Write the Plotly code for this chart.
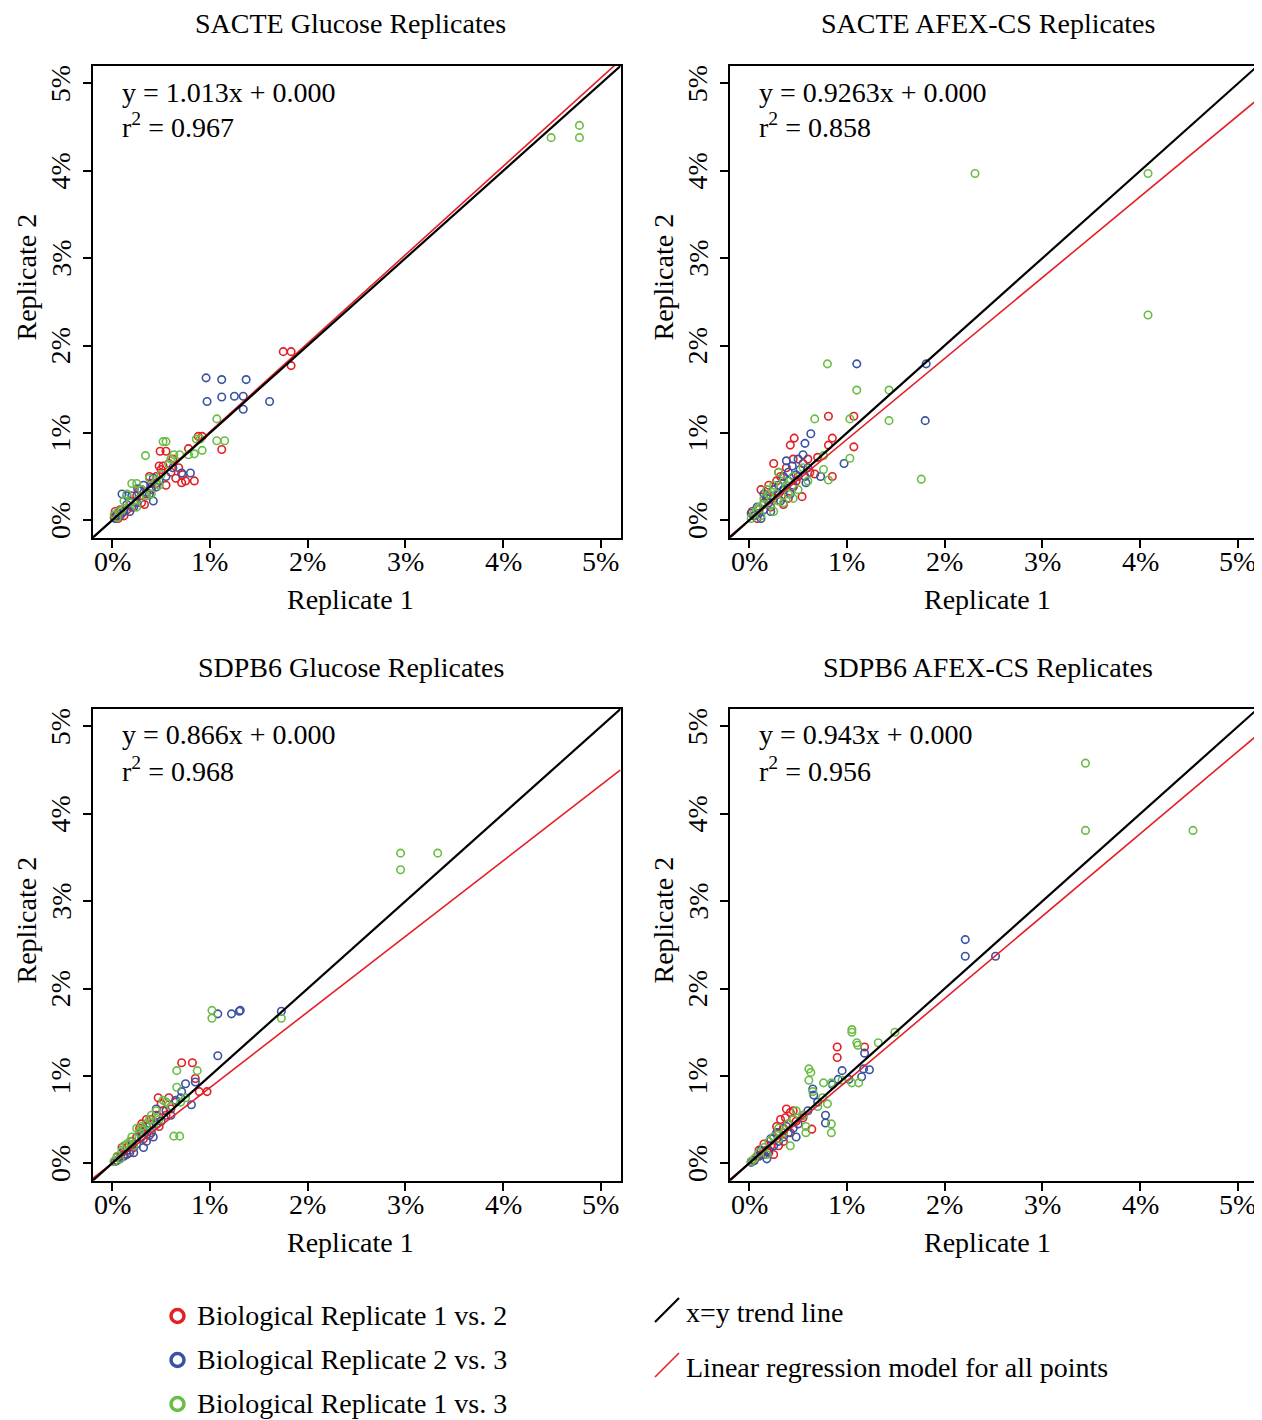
import plotly.graph_objects as go

# ---------------- data (percent) ----------------
panel_titles = ["SACTE Glucose Replicates", "SACTE AFEX-CS Replicates",
                "SDPB6 Glucose Replicates", "SDPB6 AFEX-CS Replicates"]
slopes = [1.013, 0.9263, 0.866, 0.943]
slope_labels = ["1.013", "0.9263", "0.866", "0.943"]
r2_labels = ["0.967", "0.858", "0.968", "0.956"]
tick_vals = [0, 1, 2, 3, 4, 5]
tick_text = ["0%", "1%", "2%", "3%", "4%", "5%"]
series_names = ["Biological Replicate 1 vs. 2", "Biological Replicate 2 vs. 3",
                "Biological Replicate 1 vs. 3"]

# Panel 1: SACTE Glucose
p1_r12_x = [1.75, 1.83, 1.83, 1.12, 0.88, 0.92, 0.49, 0.55, 0.78, 0.71, 0.75, 0.84, 0.55, 0.50, 0.52, 0.60, 0.45, 0.40, 0.35, 0.30, 0.25, 0.20, 0.15, 0.10, 0.05, 0.02, 0.08, 0.12, 0.18, 0.28, 0.33, 0.40, 0.45, 0.62, 0.68, 0.72, 0.48, 0.58, 0.65, 0.03, 0.06, 0.38]
p1_r12_y = [1.93, 1.93, 1.77, 0.81, 0.96, 0.96, 0.79, 0.79, 0.82, 0.43, 0.45, 0.45, 0.40, 0.58, 0.62, 0.55, 0.50, 0.42, 0.30, 0.20, 0.28, 0.15, 0.12, 0.08, 0.05, 0.03, 0.12, 0.05, 0.22, 0.35, 0.18, 0.35, 0.42, 0.70, 0.60, 0.52, 0.62, 0.65, 0.48, 0.10, 0.02, 0.50]
p1_r23_x = [0.96, 1.12, 1.37, 0.97, 1.12, 1.25, 1.34, 1.61, 1.34, 0.71, 0.80, 0.62, 0.48, 0.40, 0.42, 0.38, 0.30, 0.25, 0.20, 0.15, 0.12, 0.08, 0.05, 0.18, 0.22, 0.28, 0.35, 0.32, 0.45, 0.10, 0.15, 0.03, 0.26, 0.55, 0.42]
p1_r23_y = [1.63, 1.61, 1.61, 1.36, 1.41, 1.42, 1.42, 1.36, 1.27, 0.54, 0.54, 0.60, 0.45, 0.38, 0.22, 0.30, 0.35, 0.20, 0.28, 0.18, 0.10, 0.05, 0.08, 0.10, 0.15, 0.25, 0.32, 0.40, 0.38, 0.30, 0.28, 0.02, 0.36, 0.50, 0.48]
p1_r13_x = [4.49, 4.78, 4.78, 1.07, 1.07, 1.15, 0.92, 0.52, 0.55, 0.34, 0.63, 0.69, 0.78, 0.84, 0.60, 0.58, 0.90, 0.86, 0.20, 0.25, 0.15, 0.30, 0.35, 0.40, 0.45, 0.50, 0.10, 0.05, 0.02, 0.25, 0.18, 0.38, 0.48, 0.12, 0.28, 0.07]
p1_r13_y = [4.38, 4.52, 4.38, 1.16, 0.91, 0.91, 0.80, 0.90, 0.90, 0.74, 0.75, 0.75, 0.75, 0.76, 0.70, 0.64, 0.93, 0.93, 0.42, 0.42, 0.30, 0.35, 0.28, 0.30, 0.45, 0.52, 0.12, 0.03, 0.06, 0.15, 0.20, 0.48, 0.40, 0.22, 0.25, 0.10]

# Panel 2: SACTE AFEX-CS
p2_r12_x = [0.81, 1.07, 1.07, 0.85, 0.81, 0.85, 0.46, 0.42, 0.54, 0.67, 0.70, 0.25, 0.30, 0.38, 0.45, 0.50, 0.55, 0.60, 0.35, 0.40, 0.30, 0.20, 0.15, 0.10, 0.05, 0.08, 0.22, 0.28, 0.45, 0.35, 0.62, 0.18, 0.12, 0.25, 0.48, 0.03, 0.32]
p2_r12_y = [1.19, 1.19, 0.84, 0.94, 0.86, 0.50, 0.94, 0.86, 0.27, 0.53, 0.72, 0.65, 0.55, 0.60, 0.70, 0.50, 0.65, 0.70, 0.35, 0.25, 0.30, 0.40, 0.20, 0.12, 0.05, 0.02, 0.15, 0.45, 0.38, 0.18, 0.55, 0.28, 0.35, 0.25, 0.45, 0.10, 0.50]
p2_r23_x = [1.10, 1.81, 1.80, 0.97, 0.63, 0.57, 0.38, 0.44, 0.58, 0.57, 0.73, 0.50, 0.52, 0.45, 0.40, 0.35, 0.30, 0.25, 0.20, 0.15, 0.10, 0.05, 0.08, 0.12, 0.18, 0.28, 0.32, 0.40, 0.48, 0.60, 0.22, 0.02, 0.15, 0.35, 0.55, 0.42]
p2_r23_y = [1.79, 1.79, 1.14, 0.65, 0.99, 0.88, 0.68, 0.62, 0.43, 0.50, 0.50, 0.70, 0.58, 0.40, 0.55, 0.50, 0.40, 0.35, 0.20, 0.12, 0.08, 0.05, 0.15, 0.02, 0.25, 0.30, 0.22, 0.45, 0.52, 0.60, 0.10, 0.08, 0.30, 0.35, 0.75, 0.30]
p2_r13_x = [2.31, 4.08, 4.08, 0.80, 1.10, 1.43, 1.43, 1.76, 0.67, 1.03, 1.03, 0.76, 0.81, 0.76, 0.55, 0.45, 0.35, 0.30, 0.25, 0.20, 0.15, 0.10, 0.05, 0.02, 0.40, 0.30, 0.22, 0.12, 0.35, 0.50, 0.60, 0.18, 0.28, 0.45, 0.08, 0.38, 0.25, 0.15]
p2_r13_y = [3.97, 3.97, 2.35, 1.79, 1.49, 1.49, 1.14, 0.47, 1.16, 1.16, 0.71, 0.58, 0.46, 0.74, 0.60, 0.50, 0.45, 0.55, 0.40, 0.30, 0.25, 0.15, 0.08, 0.02, 0.30, 0.22, 0.18, 0.05, 0.20, 0.35, 0.45, 0.35, 0.30, 0.25, 0.12, 0.40, 0.10, 0.18]

# Panel 3: SDPB6 Glucose
p3_r12_x = [0.71, 0.82, 0.89, 0.97, 0.47, 0.58, 0.85, 0.50, 0.45, 0.40, 0.35, 0.30, 0.28, 0.25, 0.20, 0.15, 0.12, 0.08, 0.05, 0.03, 0.18, 0.22, 0.32, 0.38, 0.42, 0.55, 0.60, 0.10, 0.48, 0.52, 0.65, 0.30, 0.35]
p3_r12_y = [1.15, 1.15, 0.82, 0.82, 0.75, 0.75, 0.97, 0.68, 0.55, 0.50, 0.42, 0.35, 0.40, 0.30, 0.25, 0.18, 0.10, 0.05, 0.07, 0.02, 0.12, 0.18, 0.28, 0.32, 0.45, 0.55, 0.62, 0.18, 0.42, 0.60, 0.70, 0.45, 0.50]
p3_r23_x = [1.08, 1.22, 1.30, 1.31, 1.73, 1.08, 0.75, 0.85, 0.71, 0.81, 0.70, 0.60, 0.55, 0.45, 0.40, 0.35, 0.32, 0.30, 0.25, 0.22, 0.18, 0.15, 0.12, 0.08, 0.05, 0.02, 0.28, 0.38, 0.45, 0.20, 0.50, 0.65, 0.10, 0.42, 0.35]
p3_r23_y = [1.71, 1.71, 1.74, 1.75, 1.74, 1.23, 0.91, 0.93, 0.82, 0.67, 0.75, 0.55, 0.60, 0.45, 0.35, 0.25, 0.18, 0.30, 0.22, 0.12, 0.15, 0.10, 0.08, 0.06, 0.03, 0.02, 0.35, 0.42, 0.62, 0.20, 0.48, 0.72, 0.12, 0.30, 0.38]
p3_r13_x = [2.95, 2.95, 3.33, 1.02, 1.02, 1.73, 0.66, 0.87, 0.66, 0.63, 0.69, 0.52, 0.45, 0.40, 0.35, 0.30, 0.25, 0.20, 0.15, 0.10, 0.05, 0.02, 0.60, 0.55, 0.28, 0.38, 0.18, 0.12, 0.48, 0.32, 0.22, 0.42, 0.08, 0.75, 0.70]
p3_r13_y = [3.55, 3.36, 3.55, 1.75, 1.66, 1.66, 1.06, 1.06, 0.87, 0.31, 0.31, 0.72, 0.60, 0.55, 0.45, 0.42, 0.40, 0.30, 0.22, 0.15, 0.08, 0.02, 0.65, 0.70, 0.35, 0.50, 0.25, 0.20, 0.50, 0.38, 0.20, 0.42, 0.05, 0.75, 0.70]

# Panel 4: SDPB6 AFEX-CS
p4_r12_x = [0.90, 0.90, 1.18, 0.64, 0.38, 0.37, 0.42, 0.45, 0.40, 0.35, 0.30, 0.25, 0.22, 0.18, 0.15, 0.12, 0.08, 0.05, 0.02, 0.30, 0.35, 0.28, 0.20, 0.10, 0.42, 0.48, 0.55, 0.32, 0.45, 0.25]
p4_r12_y = [1.33, 1.21, 1.33, 0.39, 0.62, 0.52, 0.58, 0.50, 0.45, 0.40, 0.35, 0.30, 0.20, 0.15, 0.22, 0.10, 0.08, 0.03, 0.02, 0.20, 0.25, 0.42, 0.12, 0.15, 0.35, 0.48, 0.52, 0.50, 0.60, 0.10]
p4_r23_x = [2.21, 2.21, 2.52, 1.18, 1.17, 1.23, 1.15, 0.95, 0.91, 1.02, 0.65, 0.66, 0.78, 0.78, 0.70, 0.60, 0.55, 0.50, 0.45, 0.40, 0.35, 0.30, 0.25, 0.20, 0.15, 0.10, 0.05, 0.02, 0.18, 0.12, 0.38, 0.48, 0.28, 0.85, 0.22]
p4_r23_y = [2.56, 2.37, 2.37, 1.26, 1.08, 1.07, 0.99, 1.06, 0.96, 0.96, 0.85, 0.78, 0.55, 0.46, 0.70, 0.60, 0.55, 0.45, 0.40, 0.35, 0.30, 0.25, 0.20, 0.15, 0.10, 0.08, 0.03, 0.01, 0.05, 0.15, 0.42, 0.30, 0.35, 0.90, 0.28]
p4_r13_x = [3.44, 3.44, 4.54, 1.05, 1.05, 1.49, 1.10, 1.11, 1.32, 0.61, 0.63, 0.61, 0.76, 0.84, 1.05, 0.84, 0.84, 0.58, 0.58, 0.70, 0.75, 0.80, 0.65, 0.45, 0.40, 0.35, 0.30, 0.25, 0.20, 0.15, 0.10, 0.05, 0.02, 0.42, 0.48, 0.30, 0.18, 0.55, 0.95, 1.12]
p4_r13_y = [4.58, 3.81, 3.81, 1.53, 1.50, 1.50, 1.38, 1.35, 1.38, 1.08, 1.04, 0.95, 0.92, 0.92, 0.92, 0.45, 0.35, 0.35, 0.42, 0.65, 0.75, 0.68, 0.82, 0.50, 0.45, 0.35, 0.28, 0.30, 0.25, 0.18, 0.12, 0.05, 0.02, 0.20, 0.60, 0.40, 0.10, 0.55, 0.95, 0.92]

panels = [
    [(p1_r12_x, p1_r12_y), (p1_r23_x, p1_r23_y), (p1_r13_x, p1_r13_y)],
    [(p2_r12_x, p2_r12_y), (p2_r23_x, p2_r23_y), (p2_r13_x, p2_r13_y)],
    [(p3_r12_x, p3_r12_y), (p3_r23_x, p3_r23_y), (p3_r13_x, p3_r13_y)],
    [(p4_r12_x, p4_r12_y), (p4_r23_x, p4_r23_y), (p4_r13_x, p4_r13_y)],
]

# ---------------- styling ----------------
OFF = 8                      # default page body margin
W, H = 1262 - OFF, 1420 - OFF
FONT = "Liberation Serif, Times New Roman, serif"
FS = 28
RED, BLUE, GREEN = "#E41F26", "#3953A4", "#6ABD45"
colors = [RED, BLUE, GREEN]
XR = [-0.2, 5.2]
YR = [-0.2, 5.2]


def fx(p):
    return (p - OFF) / W


def fy(p):
    return 1 - (p - OFF) / H


def txt(text, x, y, xanchor="center", angle=0, **kw):
    d = dict(text=text, x=x, y=y, xref="paper", yref="paper", showarrow=False,
             xanchor=xanchor, yanchor="middle", textangle=angle,
             font=dict(family=FONT, size=FS, color="black"))
    d.update(kw)
    return d


# pixel boxes (reference page pixels): (left, right, top, bottom)
boxes = [(92.7, 620.5, 66, 537.7), (729.7, 1257.5, 66, 537.7),
         (92.7, 620.5, 709, 1180.7), (729.7, 1257.5, 709, 1180.7)]

fig = go.Figure()
annotations = []
shapes = []
layout_axes = {}

for i, (series, box) in enumerate(zip(panels, boxes)):
    n = i + 1
    xa = "x" if n == 1 else f"x{n}"
    ya = "y" if n == 1 else f"y{n}"
    for (xs, ys), c, name in zip(series, colors, series_names):
        fig.add_trace(go.Scatter(x=xs, y=ys, mode="markers", xaxis=xa, yaxis=ya,
                                 marker=dict(symbol="circle-open", size=7.5, color=c,
                                             line=dict(width=1.6, color=c)),
                                 showlegend=False, name=name))
    fig.add_trace(go.Scatter(x=XR, y=[slopes[i] * v for v in XR], mode="lines",
                             xaxis=xa, yaxis=ya, line=dict(color=RED, width=1.6),
                             showlegend=False, hoverinfo="skip"))
    fig.add_trace(go.Scatter(x=XR, y=XR, mode="lines", xaxis=xa, yaxis=ya,
                             line=dict(color="black", width=2.2),
                             showlegend=False, hoverinfo="skip"))
    l, r, t, b = box
    common = dict(showgrid=False, zeroline=False, showline=True, linecolor="black",
                  linewidth=2, mirror=True, ticks="outside", ticklen=8, tickwidth=2,
                  tickcolor="black", tickvals=tick_vals, showticklabels=False)
    xkey = "xaxis" if n == 1 else f"xaxis{n}"
    ykey = "yaxis" if n == 1 else f"yaxis{n}"
    layout_axes[xkey] = dict(domain=[fx(l), fx(r)], range=XR, anchor=ya, **common)
    layout_axes[ykey] = dict(domain=[fy(b), fy(t)], range=YR, anchor=xa, **common)

    # tick labels
    for v, s in zip(tick_vals, tick_text):
        annotations.append(dict(text=s, x=v, xref=xa, y=fy(b + 24),
                                yref="paper", showarrow=False, xanchor="center",
                                yanchor="middle",
                                font=dict(family=FONT, size=FS, color="black")))
        annotations.append(dict(text=s, y=v, yref=ya, x=fx(l - 32),
                                xref="paper", showarrow=False, xanchor="center",
                                yanchor="middle", textangle=-90,
                                font=dict(family=FONT, size=FS, color="black")))
    cx = (l + r) / 2 - 6
    annotations.append(txt(panel_titles[i], fx(cx), fy(t - 42)))
    annotations.append(txt("Replicate 1", fx(cx), fy(b + 62)))
    annotations.append(txt("Replicate 2", fx(l - 66), fy((t + b) / 2 - 25),
                           angle=-90))
    annotations.append(txt(f"y = {slope_labels[i]}x + 0.000", fx(l + 27),
                           fy(t + 26), xanchor="left"))
    annotations.append(txt(f"r<sup>2</sup> = {r2_labels[i]}", fx(l + 27),
                           fy(t + 60), xanchor="left"))

# ---------------- legend (drawn manually) ----------------
leg_y = [1316, 1360, 1404]
for c, name, yy in zip(colors, series_names, leg_y):
    shapes.append(dict(type="circle", xref="paper", yref="paper",
                       x0=fx(171), x1=fx(184), y0=fy(yy + 6.5), y1=fy(yy - 6.5),
                       line=dict(color=c, width=3.5)))
    annotations.append(txt(name, fx(195), fy(yy - 1), xanchor="left"))

shapes.append(dict(type="line", xref="paper", yref="paper", x0=fx(655), y0=fy(1322),
                   x1=fx(679), y1=fy(1298), line=dict(color="black", width=2.2)))
shapes.append(dict(type="line", xref="paper", yref="paper", x0=fx(655), y0=fy(1377),
                   x1=fx(679), y1=fy(1353), line=dict(color=RED, width=1.6)))
annotations.append(txt("x=y trend line", fx(684), fy(1312), xanchor="left"))
annotations.append(txt("Linear regression model for all points", fx(684),
                       fy(1367), xanchor="left"))

fig.update_layout(width=W, height=H, margin=dict(l=0, r=0, t=0, b=0),
                  paper_bgcolor="white", plot_bgcolor="white",
                  font=dict(family=FONT, size=FS, color="black"),
                  annotations=annotations, shapes=shapes, **layout_axes)

fig.write_html("out.html")
